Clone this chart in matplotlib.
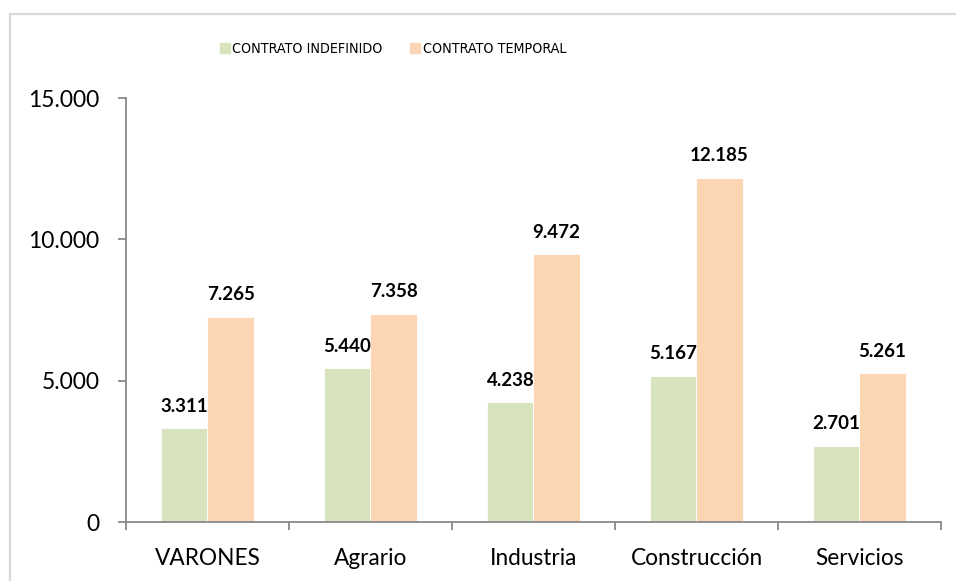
"""Contratos por sector: indefinido vs temporal."""

import matplotlib

matplotlib.use("Agg")
import matplotlib.patches as mpatches
import matplotlib.pyplot as plt
import numpy as np
from matplotlib.font_manager import FontProperties
from matplotlib.lines import Line2D
from matplotlib.ticker import FuncFormatter

categories = ["VARONES", "Agrario", "Industria", "Construcción", "Servicios"]
indefinido = [3311, 5440, 4238, 5167, 2701]
temporal = [7265, 7358, 9472, 12185, 5261]
series_names = ["CONTRATO INDEFINIDO", "CONTRATO TEMPORAL"]
colors = ["#d7e4bd", "#fcd5b5"]
yticks = [0, 5000, 10000, 15000]

plt.rcParams["font.family"] = ["Lato", "DejaVu Sans"]


def miles(v, _pos=None):
    return f"{int(round(v)):,}".replace(",", ".")


fig = plt.figure(figsize=(9.56, 5.81), dpi=100)
ax = fig.add_axes([0.1318, 0.1015, 0.8525, 0.7298])

x = np.arange(len(categories))
w = 0.283
for vals, off, col in [(indefinido, -w / 2, colors[0]), (temporal, w / 2, colors[1])]:
    bars = ax.bar(x + off, vals, width=w, color=col, edgecolor="white", linewidth=0.6)
    for b, v in zip(bars, vals):
        ax.annotate(miles(v), (b.get_x() + b.get_width() / 2, v), xytext=(0, 16),
                    textcoords="offset points", ha="center", va="center",
                    fontsize=13.5, fontweight="bold", color="black")

ax.set_xlim(-0.5, len(categories) - 0.5)
ax.set_ylim(0, 15000)
ax.set_yticks(yticks)
ax.yaxis.set_major_formatter(FuncFormatter(miles))
ax.set_xticks(x)
ax.set_xticklabels(categories)
ax.set_xticks(np.arange(len(categories) + 1) - 0.5, minor=True)

for s in ["top", "right"]:
    ax.spines[s].set_visible(False)
for s in ["left", "bottom"]:
    ax.spines[s].set_color("#898989")
    ax.spines[s].set_linewidth(1.3)

ax.tick_params(axis="y", length=6, width=1.3, color="#898989", pad=13, labelsize=16.5)
ax.tick_params(axis="x", which="major", length=0, pad=19, labelsize=16.3)
ax.tick_params(axis="x", which="minor", length=6, width=1.3, color="#898989")

legend_font = FontProperties(family="DejaVu Sans", stretch="condensed", size=10.3)
handles = [mpatches.Patch(color=c, label=n) for c, n in zip(colors, series_names)]
fig.legend(handles=handles, loc="center", bbox_to_anchor=(393 / 956, 1 - 49 / 581),
           ncol=2, frameon=False, handlelength=0.7, handleheight=0.7, handletextpad=0.2,
           columnspacing=1.9, prop=legend_font)

# thin frame, top and left edges only (the rest is cropped in the original)
fig.add_artist(Line2D([9.5 / 956, 1], [1 - 14 / 581] * 2, color="#d9d9d9", lw=1.6,
                      transform=fig.transFigure))
fig.add_artist(Line2D([9.5 / 956] * 2, [0, 1 - 14 / 581], color="#d9d9d9", lw=1.6,
                      transform=fig.transFigure))

fig.savefig("out.png", dpi=100)
plt.close(fig)
